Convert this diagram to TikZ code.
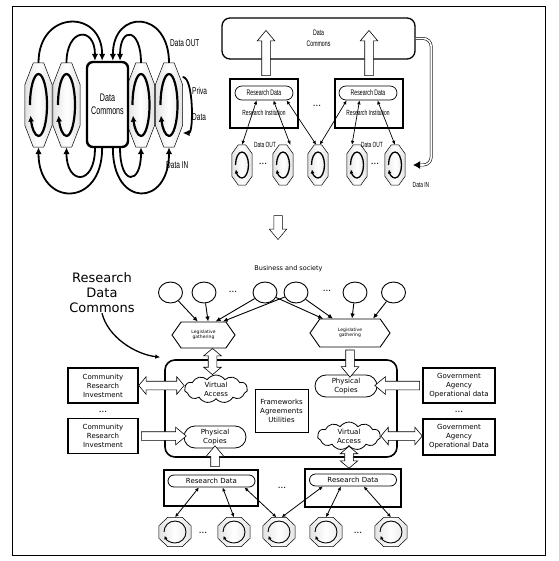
\documentclass[tikz,border=0pt]{standalone}
\usepackage{fontspec}
\newfontfamily\narrowsf[FakeStretch=0.65]{Liberation Sans}
\newfontfamily\lucsf{DejaVu Sans}
\usetikzlibrary{arrows.meta,calc,positioning,shapes.misc,shapes.symbols,shapes.arrows,shapes.geometric}

\newcommand\blockarrow[3]{%
  \path let \p1=($(#3)-(#2)$), \n1={veclen(\x1,\y1)}, \n2={atan2(\y1,\x1)} in
    node[#1, minimum height=\n1, rotate=\n2] at ($(#2)!0.5!(#3)$) {};}
\newcommand\turnloop[4]{%
  \draw[#4] ([shift={(180:#2 and #3)}]#1.center) arc[start angle=180, end angle=-160, x radius=#2, y radius=#3];}
% octagon outline round a plain node
\newcommand\cellshape[3]{%
  \shadedraw[left color=gray!22, right color=gray!22, middle color=white, line width=0.5pt]
    ([xshift=#2]#1.north west) -- ([xshift=-#2]#1.north east) -- ([yshift=-#3]#1.north east)
    -- ([yshift=#3]#1.south east) -- ([xshift=-#2]#1.south east) -- ([xshift=#2]#1.south west)
    -- ([yshift=#3]#1.south west) -- ([yshift=-#3]#1.north west) -- cycle;}

\tikzset{
  cell/.style={rectangle, inner sep=0pt},
  hexcell/.style={cell, minimum width=27, minimum height=84},
  smallcell/.style={cell, minimum width=20, minimum height=40},
  octcell/.style={cell, minimum width=32, minimum height=29},
  bigturn/.style={line width=2.2pt, -{Latex[length=6pt,width=6pt]}},
  midturn/.style={line width=1.3pt, -{Latex[length=4pt,width=4pt]}},
  smallturn/.style={line width=0.9pt, -{Latex[length=3.5pt,width=3.5pt]}},
  commons/.style={draw, fill=white, line width=2.4pt, rounded corners=6pt, minimum width=41, minimum height=85, inner sep=0pt, align=center, font=\narrowsf\fontsize{11}{13}\selectfont},
  flow/.style={line width=1.8pt, -{Latex[length=7pt,width=6.5pt]}},
  tlnote/.style={anchor=west, align=left, inner sep=0pt, font=\narrowsf\fontsize{10}{12}\selectfont},
  bigcommons/.style={draw, fill=white, line width=1.3pt, rounded corners=8pt, minimum width=193, minimum height=41, align=center, font=\narrowsf\fontsize{8}{11}\selectfont},
  inst/.style={draw, fill=white, line width=1.6pt, minimum width=68, minimum height=49, inner sep=0pt},
  rdpill/.style={rounded rectangle, draw, fill=white, line width=0.7pt, minimum width=58, minimum height=14, inner sep=0pt, font=\narrowsf\fontsize{8}{9}\selectfont},
  trnote/.style={inner sep=0pt, font=\narrowsf\fontsize{7.5}{9}\selectfont},
  dotsnote/.style={inner sep=0pt, font=\bfseries\fontsize{8}{9}\selectfont},
  link/.style={{Latex[length=4pt,width=3.5pt]}-{Latex[length=4pt,width=3.5pt]}, line width=0.7pt},
  inlink/.style={double, double distance=1.6pt, line width=0.6pt, rounded corners=8pt, -{Latex[length=7pt,width=8pt]}},
  hollow/.style={single arrow, draw, fill=white, line width=0.6pt, inner xsep=0pt, inner ysep=4pt, single arrow head extend=4.5, single arrow head indent=0, single arrow tip angle=80},
  hollowtwo/.style={double arrow, draw, fill=white, line width=0.6pt, inner xsep=0pt, inner ysep=4pt, double arrow head extend=4.5, double arrow tip angle=100},
  bnote/.style={inner sep=0pt, align=center, font=\lucsf\fontsize{7}{9}\selectfont},
  person/.style={ellipse, draw, fill=white, line width=0.9pt, minimum width=24, minimum height=21, inner sep=0pt},
  gather/.style={signal, signal to=west and east, signal pointer angle=110, draw, fill=white, line width=0.9pt, minimum width=63, minimum height=26, inner sep=0pt, align=center, font=\lucsf\fontsize{4.5}{5.5}\selectfont},
  feed/.style={line width=0.9pt, -{Latex[length=5pt,width=4.5pt]}},
  region/.style={draw, line width=1.6pt, rounded corners=10pt, minimum width=232, minimum height=97},
  cloudy/.style={bnote, cloud, cloud puffs=11, cloud puff arc=110, aspect=2.8, draw, fill=white, line width=0.8pt, minimum width=63, minimum height=23},
  copies/.style={bnote, rounded rectangle, draw, fill=white, line width=0.8pt, minimum width=62, minimum height=22},
  framebox/.style={bnote, draw, line width=0.8pt, minimum width=53, minimum height=43},
  side/.style={bnote, draw, fill=white, line width=1.5pt, minimum width=70, minimum height=35},
  bpill/.style={bnote, rounded rectangle, draw, fill=white, line width=0.8pt, minimum width=87, minimum height=12},
  slink/.style={{Latex[length=4pt,width=3.5pt]}-{Latex[length=4pt,width=3.5pt]}, line width=0.8pt},
  bigfont/.style={inner sep=0pt, align=center, font=\lucsf\fontsize{13}{15}\selectfont}
}

\begin{document}
\begin{tikzpicture}[x=1pt,y=1pt]
\useasboundingbox (0,0) rectangle (558,-561);
\draw[line width=1pt] (12,-7) rectangle (545,-555);

% commons in the middle of the cells
\foreach \n/\x in {1/38.5,2/66.5,3/141,4/169}{
  \node[hexcell] (h\n) at (\x,-105) {};
  \cellshape{h\n}{8.5}{22}
  \turnloop{h\n}{8.5}{31}{bigturn}
}
\node[commons] (dc) at (107.5,-104.5) {Data\\Commons};
\draw[flow] (h1.north) .. controls +(0,53) and +(0,52) .. (dc.97);
\draw[flow] (h2.north) .. controls +(0,35) and +(0,35) .. (dc.106);
\draw[flow] (h4.north) .. controls +(0,53) and +(0,52) .. (dc.83);
\draw[flow] (h3.north) .. controls +(0,35) and +(0,35) .. (dc.74);
\draw[flow] (dc.263) .. controls +(0,-60) and +(0,-60) .. (h1.south);
\draw[flow] (dc.254) .. controls +(0,-38) and +(0,-38) .. (h2.south);
\draw[flow] (dc.277) .. controls +(0,-60) and +(0,-60) .. (h4.south);
\draw[flow] (dc.286) .. controls +(0,-38) and +(0,-38) .. (h3.south);
\draw[flow] ([yshift=28]h4.east) .. controls +(11,0) and +(11,0) .. ([yshift=-28]h4.east);
\node[tlnote] (dout) at (170,-43) {Data OUT};
\node[tlnote] (din) at (166,-165) {Data IN};
\node[tlnote] (priv) at (192,-103.5) {Priva\\[14pt]Data};

% institutions feeding the commons
\node[bigcommons] (dc2) at (318.5,-38.5) {Data\\Commons};
\node[inst] (ri1) at (264,-103.5) {};
\node[inst] (ri2) at (369,-103.5) {};
\node[rdpill] (rd1) at (264,-93) {Research Data};
\node[rdpill] (rd2) at (368,-93) {Research Data};
\node[trnote] (rin1) at (264,-113) {Research Institution};
\node[trnote] (rin2) at (368,-113) {Research Institution};
\node[dotsnote] (tdots1) at (317,-106) {...};
\coordinate (top1) at (266,-33);
\coordinate (top2) at (369,-33);
\blockarrow{hollow}{ri1.north -| top1}{top1}
\blockarrow{hollow}{ri2.north}{top2}
\foreach \n/\x in {1/242,2/283,3/318,4/357,5/395}{
  \node[smallcell] (o\n) at (\x,-165) {};
  \cellshape{o\n}{6.5}{9}
  \turnloop{o\n}{6.5}{13}{midturn}
}
\foreach \a/\b in {rd1.225/o1.north, rd1.322/o2.70, rd1.342/o3.95, rd2.199/o3.85, rd2.221/o4.104, rd2.322/o5.north}
  \draw[link] (\a) -- (\b);
\draw[inlink] (dc2.east) -| ([xshift=26]o5.east) -- ([xshift=8]o5.east);
\node[dotsnote] (tdots2) at (263,-164) {...};
\node[dotsnote] (tdots3) at (375,-164) {...};
\node[trnote] (tout1) at (265,-145) {Data OUT};
\node[trnote] (tout2) at (372,-145) {Data OUT};
\node[trnote] (tin) at (421,-185) {Data IN};

\node[hollow, minimum height=24, rotate=-90, line width=0.5pt] (down) at (278,-225) {};

% the research data commons
\node[bnote, font=\lucsf\fontsize{6.5}{8}\selectfont] (soc) at (288.5,-269) {Business and society};
\foreach \n/\x in {1/170.5,2/204,3/265,4/296,5/355,6/393.5}
  \node[person] (p\n) at (\x,-292.5) {};
\node[dotsnote] (pdots1) at (233,-292) {...};
\node[dotsnote] (pdots2) at (327,-291) {...};
\node[gather] (lg1) at (203.5,-335) {Legislative\\gathering};
\node[gather, minimum width=80, minimum height=28] (lg2) at (350,-333) {Legislative\\gathering};
\foreach \a/\b in {p1/lg1.113, p2/lg1.71, p3/lg1.48, p4/lg1.35, p3/lg2.152, p4/lg2.140, p5/lg2.82, p6/lg2.32}
  \draw[feed] (\a) -- (\b);

\node[region] (region) at (281,-408.5) {};
\node[cloudy] (va1) at (216,-389) {Virtual\\Access};
\node[copies] (pc1) at (346,-386) {Physical\\Copies};
\node[framebox] (fw) at (281.5,-410.5) {Frameworks\\Agreements\\Utilities};
\node[copies] (pc2) at (215,-437) {Physical\\Copies};
\node[cloudy] (va2) at (349,-436) {Virtual\\Access};
\node[side] (cri1) at (103,-385.5) {Community\\Research\\Investment};
\node[dotsnote] (cdots) at (103,-412) {...};
\node[side] (cri2) at (103,-436) {Community\\Research\\Investment};
\node[side, minimum width=72] (gov1) at (459,-385.5) {Government\\Agency\\Operational data};
\node[dotsnote] (gdots) at (459,-412) {...};
\node[side, minimum width=72, minimum height=36] (gov2) at (459,-437) {Government\\Agency\\Operational Data};
\node[inst, minimum width=94, minimum height=36] (rb1) at (211,-488) {};
\node[inst, minimum width=96, minimum height=38] (rb2) at (353,-488) {};
\node[bpill] (rdb1) at (211.5,-481) {Research Data};
\node[bpill] (rdb2) at (353,-480) {Research Data};
\node[dotsnote] (rdots) at (282,-488) {...};

\node[bigfont] (rdclabel) at (102,-293) {Research\\Data\\Commons};
\draw[feed, line width=1.3pt] (rdclabel.south) .. controls +(6,-24) and +(-25,3) .. ([shift={(-4,2)}]region.north west);

\coordinate (lgfoot) at ([xshift=9]lg1.south);
\blockarrow{hollowtwo}{lgfoot}{lgfoot |- va1.north}
\blockarrow{hollow}{lg2.south}{lg2.south |- pc1.north}
\blockarrow{hollowtwo}{cri1.east}{cri1.east -| va1.west}
\blockarrow{hollow}{cri2.east}{cri2.east -| pc2.west}
\blockarrow{hollow}{gov1.west}{gov1.west -| pc1.east}
\blockarrow{hollowtwo}{va2.east}{va2.east -| gov2.west}
\blockarrow{hollow}{rb1.north -| pc2.south}{pc2.south}
\blockarrow{hollowtwo}{va2.south}{va2.south |- rb2.north}

\foreach \n/\x in {1/175,2/234,3/279,4/326,5/391}{
  \node[octcell] (q\n) at (\x,-532) {};
  \cellshape{q\n}{9}{8.5}
  \turnloop{q\n}{11}{11}{smallturn}
}
\node[dotsnote] (qdots1) at (203,-533) {...};
\node[dotsnote] (qdots2) at (358,-533) {...};
\foreach \a/\b in {rdb1.207/q1.north, rdb1.330/q2.north, rdb1.349/q3.100, rdb2.192/q3.80, rdb2.208/q4.north, rdb2.329/q5.north}
  \draw[slink] (\a) -- (\b);
\end{tikzpicture}
\end{document}
